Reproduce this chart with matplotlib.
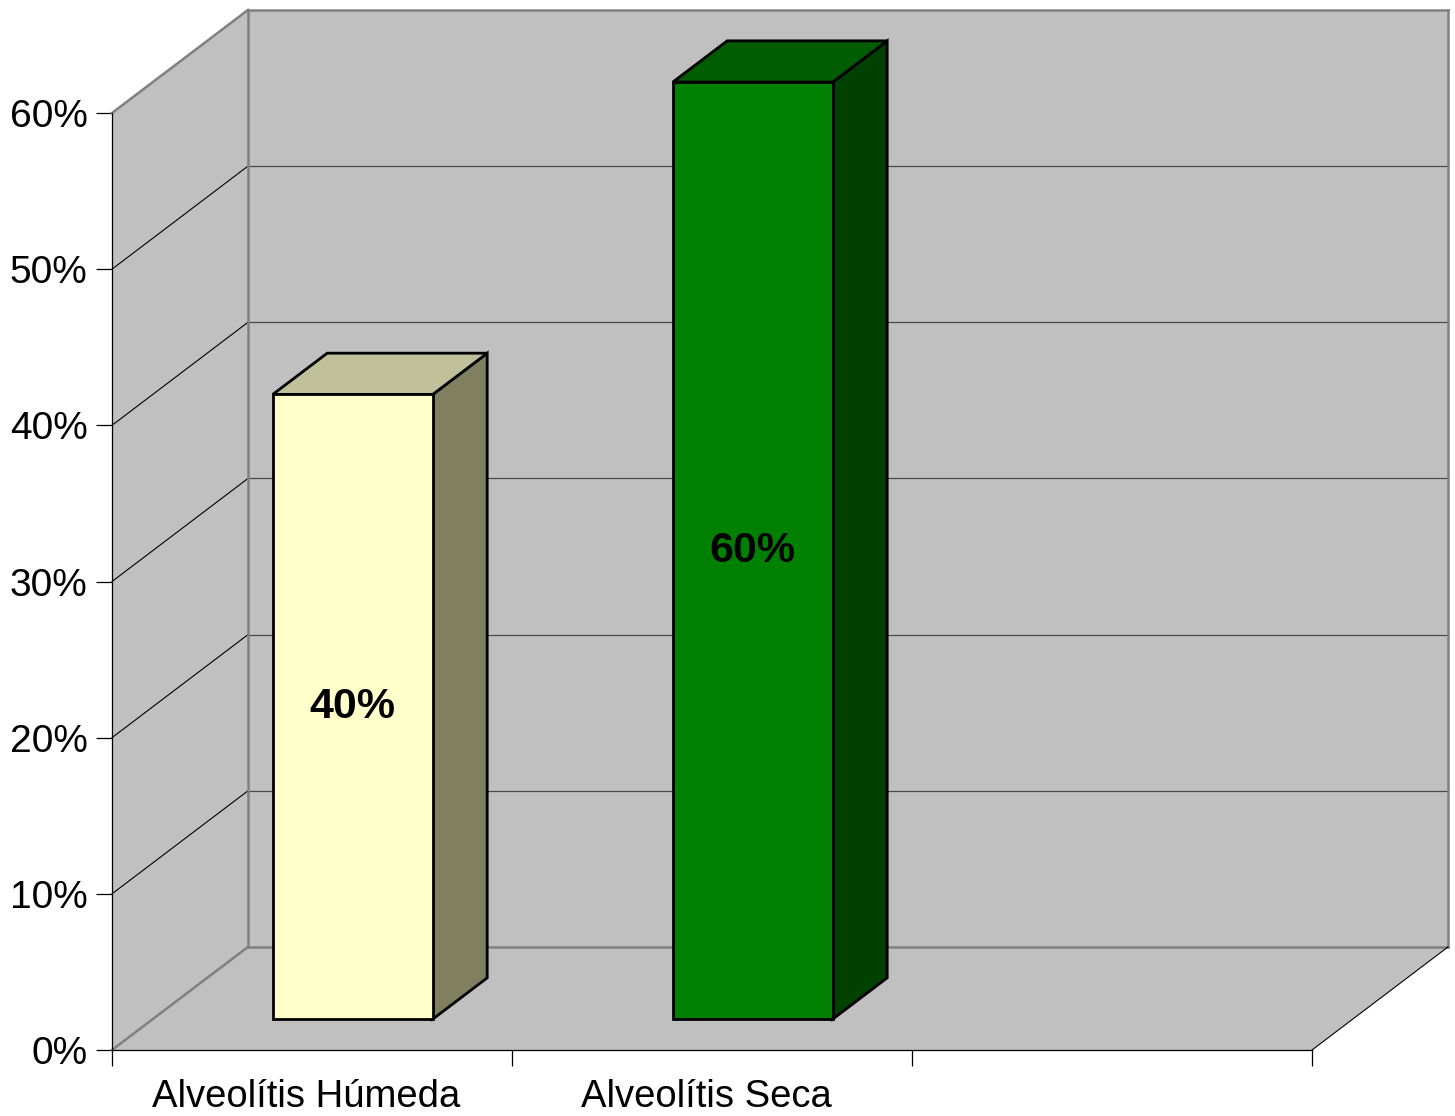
import matplotlib
matplotlib.use("Agg")
import matplotlib.pyplot as plt
from matplotlib.patches import Polygon
from matplotlib.ticker import PercentFormatter, FixedLocator, NullFormatter

plt.rcParams["font.family"] = ["Liberation Sans", "DejaVu Sans"]

# data
categories = ["Alveolítis Húmeda", "Alveolítis Seca", ""]
values = [40, 60, None]
front_colors = ["#FFFFCC", "#008000"]
top_colors = ["#C0C09A", "#005C00"]
side_colors = ["#808060", "#004000"]
yticks = [0, 10, 20, 30, 40, 50, 60]

# 3d look: depth offset of the floor in data units
DX, DY = 0.34, 6.6
BAR_D0, BAR_D1 = 0.3, 0.7      # bar depth range (fraction of floor depth)
BAR_W0, BAR_W1 = 0.3, 0.7      # bar width inside a category
WALL = "#C0C0C0"
EDGE = "#808080"
ymax = yticks[-1]
ncat = len(categories)


def proj(x, y, d):
    return (x + d * DX, y + d * DY)


fig = plt.figure(figsize=(14.55, 11.16), dpi=100)
ax = fig.add_axes([0, 0, 1, 1])
S = 937 / 60.0   # px per percent
ax.set_xlim(-112 / 400, (1455 - 112) / 400)
ax.set_ylim(-(1116 - 1050) / S, 1050 / S)
ax.set_facecolor("white")

# walls and floor
left_wall = [proj(0, 0, 0), proj(0, ymax, 0), proj(0, ymax, 1), proj(0, 0, 1)]
back_wall = [proj(0, 0, 1), proj(0, ymax, 1), proj(ncat, ymax, 1), proj(ncat, 0, 1)]
floor = [proj(0, 0, 0), proj(ncat, 0, 0), proj(ncat, 0, 1), proj(0, 0, 1)]
for poly in (left_wall, back_wall, floor):
    ax.add_patch(Polygon(poly, closed=True, facecolor=WALL, edgecolor="none", zorder=1))

# gridlines
for v in yticks[1:-1]:
    p0, p1 = proj(0, v, 0), proj(0, v, 1)
    ax.plot([p0[0], p1[0]], [p0[1], p1[1]], color="black", lw=0.8, zorder=2)
    q0, q1 = proj(0, v, 1), proj(ncat, v, 1)
    ax.plot([q0[0], q1[0]], [q0[1], q1[1]], color="#4a4a4a", lw=0.9, zorder=2)

# gray wall edges
gray_edges = [
    (proj(0, ymax, 0), proj(0, ymax, 1)),
    (proj(0, ymax, 1), proj(ncat, ymax, 1)),
    (proj(0, 0, 1), proj(0, ymax, 1)),
    (proj(ncat, 0, 1), proj(ncat, ymax, 1)),
    (proj(0, 0, 1), proj(ncat, 0, 1)),
    (proj(0, 0, 0), proj(0, 0, 1)),
]
for a, b in gray_edges:
    ax.plot([a[0], b[0]], [a[1], b[1]], color=EDGE, lw=1.8, zorder=3, solid_capstyle="projecting")
a, b = proj(ncat, 0, 0), proj(ncat, 0, 1)
ax.plot([a[0], b[0]], [a[1], b[1]], color="black", lw=0.8, zorder=3)

# bars
for i, v in enumerate(values):
    if v is None:
        continue
    x0, x1 = i + BAR_W0, i + BAR_W1
    front = [proj(x0, 0, BAR_D0), proj(x0, v, BAR_D0), proj(x1, v, BAR_D0), proj(x1, 0, BAR_D0)]
    top = [proj(x0, v, BAR_D0), proj(x0, v, BAR_D1), proj(x1, v, BAR_D1), proj(x1, v, BAR_D0)]
    side = [proj(x1, 0, BAR_D0), proj(x1, v, BAR_D0), proj(x1, v, BAR_D1), proj(x1, 0, BAR_D1)]
    for poly, col in ((side, side_colors[i]), (top, top_colors[i]), (front, front_colors[i])):
        ax.add_patch(Polygon(poly, closed=True, facecolor=col, edgecolor="black",
                             lw=2.0, joinstyle="miter", zorder=5))
    cx, cy = proj((x0 + x1) / 2, v / 2, BAR_D0)
    ax.text(cx, cy, f"{v}%", ha="center", va="center", fontsize=31,
            fontweight="bold", color="black", zorder=6)

# axes: real spines/ticks placed on the front edges
for s in ("top", "right"):
    ax.spines[s].set_visible(False)
ax.spines["left"].set_position(("data", 0))
ax.spines["bottom"].set_position(("data", 0))
ax.spines["left"].set_bounds(0, ymax)
ax.spines["bottom"].set_bounds(0, ncat)
for s in ("left", "bottom"):
    ax.spines[s].set_linewidth(0.9)
    ax.spines[s].set_zorder(4)

ax.yaxis.set_major_locator(FixedLocator(yticks))
ax.yaxis.set_major_formatter(PercentFormatter(decimals=0))
ax.tick_params(axis="y", direction="out", length=11.5, width=0.9, labelsize=28, pad=6)

ax.xaxis.set_major_locator(FixedLocator(range(ncat + 1)))
ax.xaxis.set_major_formatter(NullFormatter())
ax.xaxis.set_minor_locator(FixedLocator([i + 0.485 for i in range(ncat)]))
ax.set_xticklabels(categories, minor=True)
ax.tick_params(axis="x", which="major", direction="out", length=11.5, width=0.9)
ax.tick_params(axis="x", which="minor", length=0, labelsize=27.5, pad=21)

fig.savefig("out.png", dpi=100)
